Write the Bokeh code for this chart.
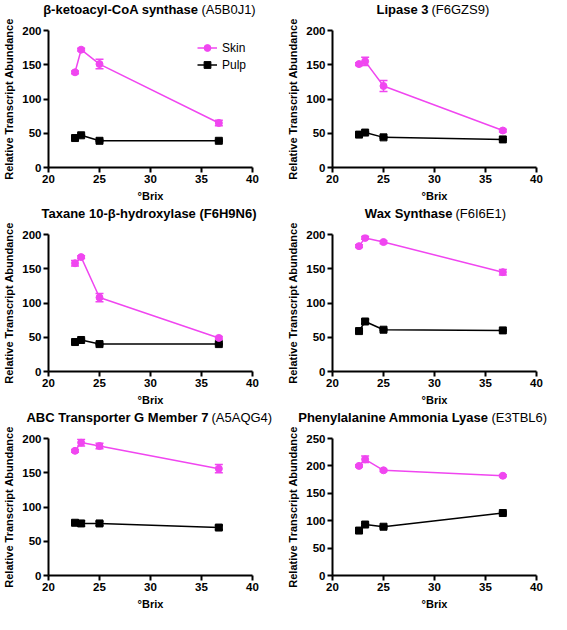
from bokeh.plotting import figure
from bokeh.models import Range1d, FixedTicker, Whisker, ColumnDataSource, Legend, LegendItem, TeeHead
from bokeh.core.properties import value
from bokeh.layouts import column, row
from bokeh.embed import file_html
from bokeh.resources import INLINE

# ---- data ----
brix = [22.6, 23.2, 25.0, 36.7]

titles_bold = ["β-ketoacyl-CoA synthase", "Lipase 3", "Taxane 10-β-hydroxylase (F6H9N6)",
               "Wax Synthase", "ABC Transporter G Member 7", "Phenylalanine Ammonia Lyase"]
titles_norm = ["(A5B0J1)", "(F6GZS9)", "", "(F6I6E1)", "(A5AQG4)", "(E3TBL6)"]

skin_1 = [139, 172, 151, 65]
skin_1_err = [2, 2, 7, 4]
pulp_1 = [43, 47, 39, 39]
pulp_1_err = [1, 1, 1, 1]

skin_2 = [151, 155, 119, 54]
skin_2_err = [2, 6, 8, 2]
pulp_2 = [48, 51, 44, 41]
pulp_2_err = [1, 1, 1, 1]

skin_3 = [158, 167, 108, 49]
skin_3_err = [4, 2, 6, 2]
pulp_3 = [43, 46, 40, 40]
pulp_3_err = [1, 1, 1, 1]

skin_4 = [183, 195, 189, 145]
skin_4_err = [2, 2, 2, 4]
pulp_4 = [59, 73, 61, 60]
pulp_4_err = [1, 3, 1, 1]

skin_5 = [182, 194, 189, 156]
skin_5_err = [2, 5, 4, 6]
pulp_5 = [77, 76, 76, 70]
pulp_5_err = [1, 4, 3, 3]

skin_6 = [200, 212, 192, 182]
skin_6_err = [2, 6, 2, 2]
pulp_6 = [82, 93, 89, 114]
pulp_6_err = [2, 2, 2, 2]

y_max = [200, 200, 200, 200, 200, 250]
x_ticks = [20, 25, 30, 35, 40]

skins = [skin_1, skin_2, skin_3, skin_4, skin_5, skin_6]
skin_errs = [skin_1_err, skin_2_err, skin_3_err, skin_4_err, skin_5_err, skin_6_err]
pulps = [pulp_1, pulp_2, pulp_3, pulp_4, pulp_5, pulp_6]
pulp_errs = [pulp_1_err, pulp_2_err, pulp_3_err, pulp_4_err, pulp_5_err, pulp_6_err]

# title split position (pixels from frame left) between bold and regular parts
title_split = [153, 99, 103.5, 123, 163, 159]

MAGENTA = "#F046F0"
FONT = "Liberation Sans"
FRAME_W, FRAME_H = 207, 138
TITLE_H = 18


def make_title(i, width, left):
    t = figure(width=width, height=TITLE_H, output_backend="svg", toolbar_location=None,
               x_range=Range1d(0, width), y_range=Range1d(0, TITLE_H),
               x_axis_type=None, y_axis_type=None, frame_align=False,
               min_border_left=0, min_border_right=0, min_border_top=0, min_border_bottom=0)
    t.grid.visible = False
    t.outline_line_color = None
    sx = left + title_split[i]
    ty = TITLE_H / 2
    if titles_norm[i]:
        t.text(x=[sx], y=[ty], text=[titles_bold[i]], text_align="right", text_baseline="middle",
               text_font=value(FONT), text_font_style="bold", text_font_size="13px",
               text_color="black")
        t.text(x=[sx + 3], y=[ty], text=[titles_norm[i]], text_align="left", text_baseline="middle",
               text_font=value(FONT), text_font_style="normal", text_font_size="13px",
               text_color="black")
    else:
        t.text(x=[sx], y=[ty], text=[titles_bold[i]], text_align="center", text_baseline="middle",
               text_font=value(FONT), text_font_style="bold", text_font_size="13px",
               text_color="black")
    return t


def make_panel(i):
    col = i % 2
    left, right = 45, (32 if col == 0 else 15)
    top, bottom = 12, 36
    width = left + FRAME_W + right
    p = figure(width=width, height=top + FRAME_H + bottom,
               output_backend="svg", toolbar_location=None,
               x_range=Range1d(20, 40), y_range=Range1d(0, y_max[i]),
               min_border_left=left, min_border_right=right,
               min_border_top=top, min_border_bottom=bottom)
    p.xgrid.grid_line_color = None
    p.ygrid.grid_line_color = None
    p.outline_line_color = None
    p.background_fill_color = "white"

    p.xaxis.ticker = FixedTicker(ticks=x_ticks)
    p.yaxis.ticker = FixedTicker(ticks=list(range(0, y_max[i] + 1, 50)))
    p.xaxis.axis_label = "°Brix"
    p.yaxis.axis_label = "Relative Transcript Abundance"
    for ax in (p.xaxis[0], p.yaxis[0]):
        ax.axis_line_width = 2
        ax.major_tick_line_width = 2
        ax.major_tick_out = 5
        ax.major_tick_in = 0
        ax.minor_tick_line_color = None
        ax.major_label_text_font = FONT
        ax.major_label_text_font_style = "bold"
        ax.major_label_text_font_size = "11.5px"
        ax.major_label_text_color = "black"
        ax.major_label_standoff = 2
        ax.axis_label_text_font = FONT
        ax.axis_label_text_font_style = "bold"
        ax.axis_label_text_font_size = "11px"
        ax.axis_label_text_color = "black"
        ax.axis_label_standoff = 4

    sx = skins[i]
    px = pulps[i]
    se = skin_errs[i]
    pe = pulp_errs[i]

    src_s = ColumnDataSource(dict(x=brix, y=sx,
                                  lo=[a - b for a, b in zip(sx, se)],
                                  hi=[a + b for a, b in zip(sx, se)]))
    src_p = ColumnDataSource(dict(x=brix, y=px,
                                  lo=[a - b for a, b in zip(px, pe)],
                                  hi=[a + b for a, b in zip(px, pe)]))

    for src, c in ((src_p, "black"), (src_s, MAGENTA)):
        w = Whisker(source=src, base="x", upper="hi", lower="lo",
                    line_color=c, line_width=1.5,
                    upper_head=TeeHead(size=8, line_color=c, line_width=1.5),
                    lower_head=TeeHead(size=8, line_color=c, line_width=1.5))
        p.add_layout(w)

    lp = p.line("x", "y", source=src_p, line_color="black", line_width=1.5)
    mp = p.scatter("x", "y", source=src_p, marker="square", size=7,
                   fill_color="black", line_color="black")
    ls = p.line("x", "y", source=src_s, line_color=MAGENTA, line_width=1.5)
    ms = p.scatter("x", "y", source=src_s, marker="circle", size=7,
                   fill_color=MAGENTA, line_color=MAGENTA)

    if i == 0:
        leg = Legend(items=[LegendItem(label="Skin", renderers=[ls, ms]),
                            LegendItem(label="Pulp", renderers=[lp, mp])],
                     location=(149, 94), orientation="vertical",
                     glyph_width=20, glyph_height=17, label_height=17,
                     label_standoff=5, spacing=0, padding=0, margin=0,
                     border_line_color=None, background_fill_alpha=0,
                     label_text_font=FONT, label_text_font_size="12px",
                     label_text_color="black")
        p.add_layout(leg)
    return column(make_title(i, width, left), p, spacing=0)


panels = [make_panel(i) for i in range(6)]
layout = column(row(panels[0], panels[1]), row(panels[2], panels[3]), row(panels[4], panels[5]))

open("out.html", "w").write(file_html(layout, INLINE))
